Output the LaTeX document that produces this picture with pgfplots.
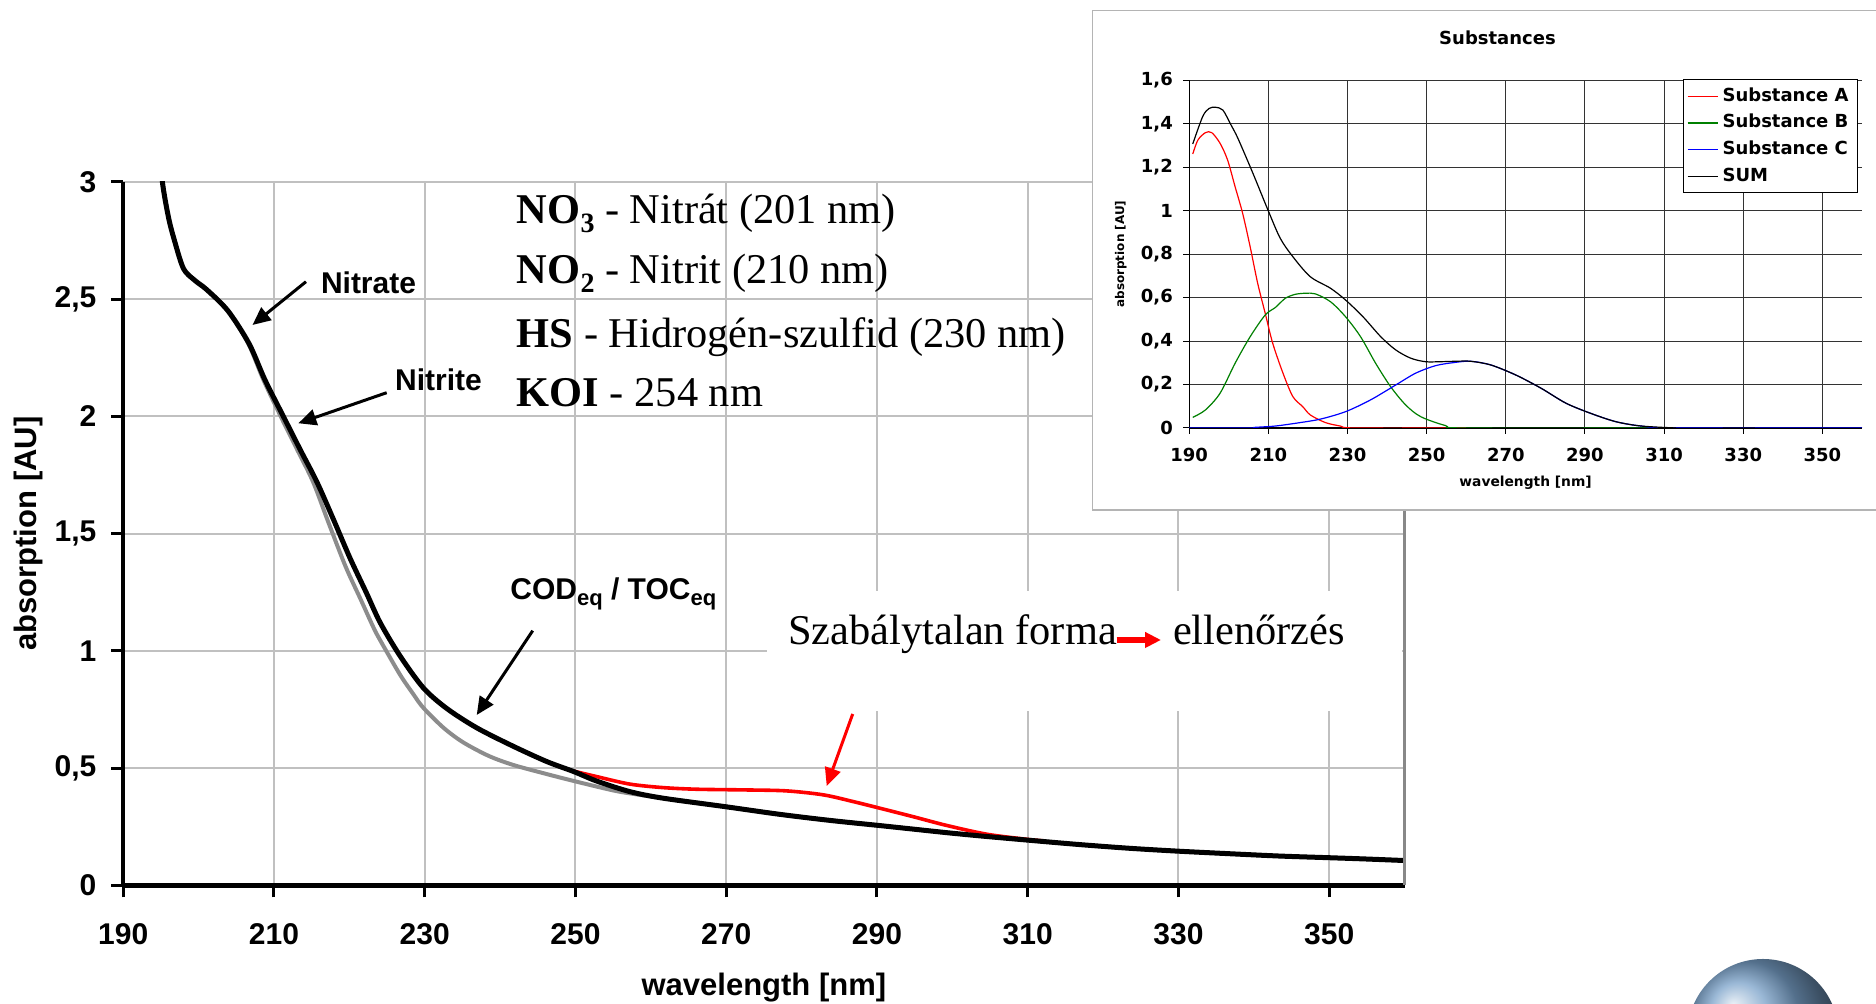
\documentclass[border=0pt]{standalone}
\usepackage{fontspec}
\setmainfont{Liberation Serif}
\newfontfamily\arialf{Liberation Sans}
\newfontfamily\verd{DejaVu Sans}
\usepackage{pgfplots}
\pgfplotsset{compat=1.18}
\usetikzlibrary{arrows.meta}
\definecolor{gridgray}{HTML}{C0C0C0}
\definecolor{bordergray}{HTML}{888888}
\definecolor{curvegray}{HTML}{8C8C8C}
\definecolor{exgreen}{HTML}{008000}
\definecolor{framegray}{HTML}{B4B4B4}
\definecolor{logoblue}{RGB}{120,160,200}
\newcommand\mlab{\arialf\bfseries\fontsize{15}{18}\selectfont}
\newcommand\ilab{\verd\bfseries\fontsize{9}{11}\selectfont}
\pgfkeys{/pgf/number format/.cd, use comma, assume math mode=true}
\begin{document}
\begin{tikzpicture}[x=1pt,y=1pt]
\path[use as bounding box] (0,0) rectangle (938,502);
\begin{axis}[
  at={(61.6pt,59.3pt)}, anchor=south west,
  scale only axis, width=640.7pt, height=351.75pt,
  xmin=190, xmax=360, ymin=0, ymax=3,
  xtick={190,210,230,250,270,290,310,330,350},
  ytick={0,0.5,1,1.5,2,2.5,3},
  axis x line=bottom, axis y line=left,
  every outer x axis line/.append style={-, black, line width=2.5pt},
  every outer y axis line/.append style={-, black, line width=2pt},
  grid=major, major grid style={gridgray, line width=1pt},
  tick align=outside, major tick length=6pt,
  tick style={black, line width=1.5pt},
  ticklabel style={font=\mlab},
  xticklabel style={anchor=north, inner sep=0pt, yshift=-13pt},
  yticklabel style={anchor=east, inner sep=0pt, xshift=-7.2pt},
  xlabel={wavelength [nm]}, ylabel={absorption [AU]},
  label style={font=\arialf\bfseries\fontsize{15.5}{18}\selectfont},
  xlabel style={at={(axis description cs:0.5,0)}, anchor=base, yshift=-55.3pt},
  ylabel style={at={(axis description cs:-0.0676,0.5)}, anchor=base},
  after end axis/.code={\draw[bordergray, line width=1.3pt] (rel axis cs:1,0) -- (rel axis cs:1,1);},
]
% gray curve
\addplot[curvegray, line width=2pt, smooth] coordinates {
(194.9,3.15)(195.2,3.0)(196.0,2.85)(196.8,2.75)(198.0,2.63)(199.5,2.58)(201.1,2.54)(203.9,2.45)
(206.6,2.31)(208.6,2.156)(210.9,2.0)(213.1,1.857)(215.2,1.72)(217.2,1.55)(219.5,1.36)(221.5,1.22)
(223.2,1.10)(224.1,1.045)(226.7,0.90)(228.5,0.815)(229.8,0.758)(232.5,0.672)(235.1,0.61)
(238.5,0.552)(241.7,0.514)(245.8,0.478)(249.8,0.445)(255.0,0.405)(257.7,0.39)(261.6,0.372)
(269.8,0.336)(277.1,0.303)(283.8,0.277)(290.4,0.255)(294.8,0.240)(299.2,0.225)(303.7,0.211)
(310,0.193)(316.9,0.174)(323.6,0.158)(329.9,0.146)(336.8,0.135)(343.5,0.125)(350,0.118)(354.5,0.113)(360,0.106)};
% red curve
\addplot[red, line width=1.8pt, smooth] coordinates {
(249.8,0.487)(252.8,0.464)(257.2,0.432)(261.6,0.417)(266.1,0.410)(272.7,0.407)(278.0,0.403)
(282.9,0.386)(286.9,0.357)(290.4,0.329)(294.8,0.293)(299.2,0.256)(304.6,0.218)(310,0.196)(312,0.190)};
% black curve
\addplot[black, line width=2.5pt, smooth] coordinates {
(194.9,3.15)(195.2,3.0)(196.0,2.85)(196.8,2.75)(198.0,2.63)(199.5,2.58)(201.1,2.54)(203.9,2.45)
(206.7,2.31)(208.8,2.156)(211.2,2.003)(213.5,1.857)(215.7,1.72)(217.9,1.56)(220.1,1.395)
(222.3,1.245)(224.1,1.12)(226.7,0.98)(229.8,0.843)(232.9,0.755)(236.9,0.672)(241.7,0.594)
(246.2,0.528)(249.8,0.485)(252.8,0.445)(257.2,0.40)(261.6,0.372)(269.8,0.336)(277.1,0.303)
(283.8,0.277)(290.4,0.255)(294.8,0.240)(299.2,0.225)(303.7,0.211)(310,0.193)(316.9,0.174)
(323.6,0.158)(329.9,0.146)(336.8,0.135)(343.5,0.125)(350,0.118)(354.5,0.113)(360,0.106)};
\end{axis}

% white box behind the remark
\fill[white] (383.5,146.5) rectangle (701,206.5);

% text block
\begin{scope}[every node/.style={anchor=base west, inner sep=0pt, font=\fontsize{21.2}{25}\selectfont}]
\node at (258.25,390) {\textbf{NO\raisebox{-4.5pt}{\fontsize{14}{14}\selectfont 3}} - Nitrát (201 nm)};
\node at (258.25,360) {\textbf{NO\raisebox{-4.5pt}{\fontsize{14}{14}\selectfont 2}} - Nitrit (210 nm)};
\node at (258.25,328.2) {\textbf{HS} - Hidrogén-szulfid (230 nm)};
\node at (258.25,298.5) {\textbf{KOI} - 254 nm};
\node at (394,179.5) {Szabálytalan forma};
\node at (586.35,179.5) {ellenőrzés};
\end{scope}
\draw[red, line width=3.3pt, -{Triangle[length=8pt,width=7.5pt]}] (558.35,182) -- (580.5,182);

% annotations
\begin{scope}[every node/.style={anchor=base west, inner sep=0pt, font=\arialf\bfseries\fontsize{15}{18}\selectfont}]
\node at (160.3,355) {Nitrate};
\node at (197.4,306.65) {Nitrite};
\node at (255,202) {COD\raisebox{-3pt}{\fontsize{11}{11}\selectfont eq} / TOC\raisebox{-3pt}{\fontsize{11}{11}\selectfont eq}};
\end{scope}
\draw[black, line width=1.5pt, -{Triangle[length=9pt,width=8pt]}] (153,361.15) -- (126.25,339.5);
\draw[black, line width=1.5pt, -{Triangle[length=9pt,width=8pt]}] (193.35,305.65) -- (149.15,290.35);
\draw[black, line width=1.5pt, -{Triangle[length=9pt,width=8pt]}] (266.35,186.65) -- (238.35,144.5);
\draw[red, line width=1.5pt, -{Triangle[length=9pt,width=8pt]}] (426.35,145) -- (413.35,109);

% inset frame
\filldraw[fill=white, draw=framegray, line width=0.75pt] (546.25,247) rectangle (945,496.65);

\begin{axis}[
  at={(594.6pt,288pt)}, anchor=south west,
  scale only axis, width=336.4pt, height=173.85pt,
  xmin=190, xmax=360, ymin=0, ymax=1.6,
  xtick={190,210,230,250,270,290,310,330,350},
  ytick={0,0.2,0.4,0.6,0.8,1,1.2,1.4,1.6},
  axis x line=bottom, axis y line=left,
  every outer x axis line/.append style={-, black, line width=0.6pt},
  every outer y axis line/.append style={-, black, line width=0.6pt},
  grid=major, major grid style={black!80, line width=0.5pt},
  tick align=outside, major tick length=3pt, tick style={black, line width=0.5pt},
  ticklabel style={font=\ilab},
  xticklabel style={anchor=north, inner sep=0pt, yshift=-7pt},
  yticklabel style={anchor=east, inner sep=0pt, xshift=-5pt},
  xlabel={wavelength [nm]}, ylabel={absorption [AU]},
  xlabel style={font=\verd\bfseries\fontsize{6.9}{8}\selectfont, at={(axis description cs:0.5,0)}, anchor=base, yshift=-29.5pt},
  ylabel style={font=\verd\bfseries\fontsize{6}{7}\selectfont, at={(axis description cs:-0.0969,0.5)}, anchor=base},
  title={Substances},
  title style={font=\verd\bfseries\fontsize{9}{11}\selectfont, at={(axis description cs:0.4582,1)}, anchor=base, yshift=12pt},
  legend style={at={(axis description cs:0.7332,1.0029)}, anchor=north west, draw=black, line width=0.5pt, fill=white, font=\ilab, inner xsep=2pt, inner ysep=1.5pt, row sep=0pt, nodes={inner sep=2.2pt, text height=7pt, text depth=2pt}},
  legend cell align=left,
  legend image code/.code={\draw[#1, line width=0.6pt] (0pt,0pt) -- (15pt,0pt);},
]
\addplot[red, line width=0.6pt, smooth] coordinates {
(190.9,1.261)(192.2,1.325)(194.1,1.359)(195.7,1.359)(197.8,1.31)(199.7,1.233)(201.6,1.11)(203.5,0.988)
(205.4,0.834)(207.3,0.666)(209.2,0.528)(211.1,0.39)(213.7,0.252)(216.2,0.144)(218.7,0.098)(220.6,0.06)
(224.4,0.025)(228.2,0.009)(232,0.0)(260,0)};
\addlegendentry{Substance A}
\addplot[exgreen, line width=0.6pt, smooth] coordinates {
(190.9,0.049)(194.1,0.083)(197.8,0.16)(201.6,0.298)(205.4,0.42)(209.2,0.52)(211.8,0.555)(214.3,0.597)
(216.8,0.615)(219.4,0.62)(221.9,0.617)(225.7,0.581)(229.5,0.512)(233.3,0.42)(237.1,0.298)(240.9,0.19)
(244.7,0.106)(248.5,0.052)(254.8,0.011)(259.9,0)(310,0)};
\addlegendentry{Substance B}
\addplot[blue, line width=0.6pt, smooth] coordinates {
(190,0)(205,0)(206.7,0.003)(211.8,0.009)(218.1,0.025)(223.2,0.041)(229.5,0.075)(235.8,0.129)
(242.2,0.198)(247.2,0.252)(252.3,0.287)(257.3,0.302)(261.1,0.307)(266.2,0.29)(272.5,0.244)
(278.9,0.183)(285.2,0.114)(291.5,0.067)(297.8,0.029)(304.2,0.009)(313,0.0)(360,0)};
\addlegendentry{Substance C}
\addplot[black, line width=0.6pt, smooth] coordinates {
(190.9,1.307)(193.4,1.433)(195,1.47)(196.6,1.476)(198.5,1.463)(200.4,1.4)(202.3,1.333)(206.1,1.172)
(209.9,1.003)(213.0,0.873)(216.2,0.788)(220.6,0.696)(225.7,0.643)(229.5,0.589)(233.9,0.512)
(238.4,0.42)(242.2,0.359)(246,0.321)(249.7,0.305)(253.5,0.305)(257.3,0.307)(261.1,0.307)
(266.2,0.29)(272.5,0.244)(278.9,0.183)(285.2,0.114)(291.5,0.067)(297.8,0.029)(304.2,0.009)(313,0.0)};
\addlegendentry{SUM}
\end{axis}

% logo
\shade[ball color=logoblue] (881.5,-15.3) circle (37.8);
\end{tikzpicture}
\end{document}
